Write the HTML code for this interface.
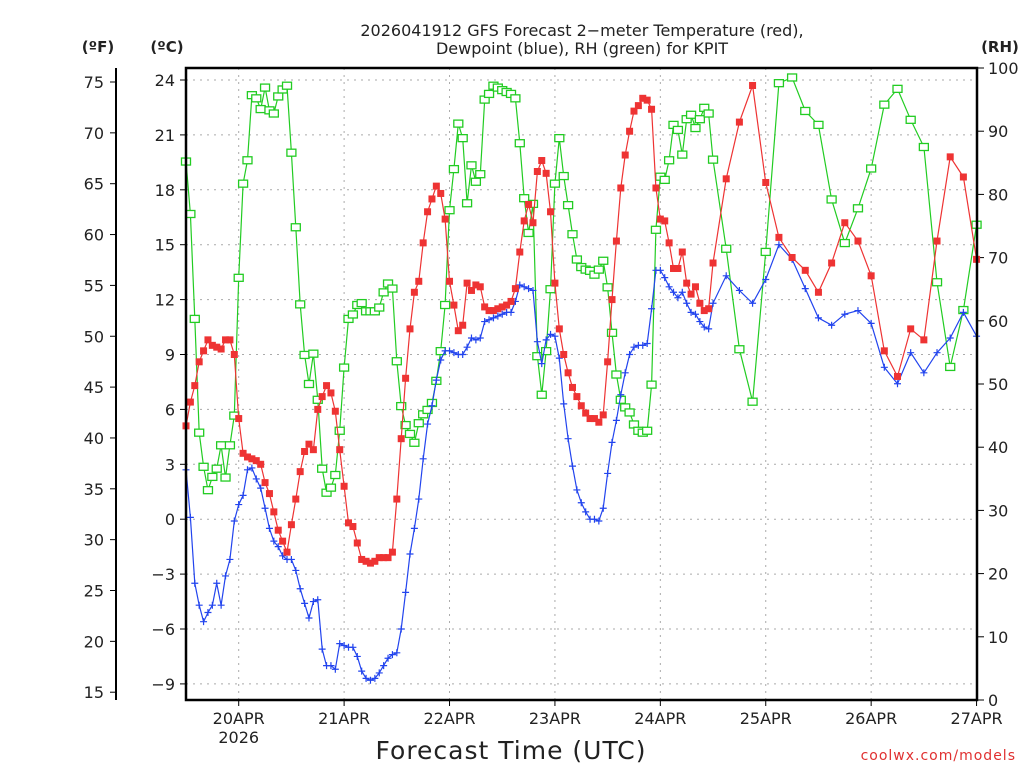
<!DOCTYPE html>
<html><head><meta charset="utf-8"><style>
html,body{margin:0;padding:0;background:#fff;overflow:hidden;width:1024px;height:768px}
svg{display:block}
svg text{font-family:"DejaVu Sans","Liberation Sans",sans-serif;fill:#222}
</style></head><body>
<svg id="chart" width="1024" height="768" viewBox="0 0 1024 768" xmlns="http://www.w3.org/2000/svg">
<rect width="1024" height="768" fill="#fff"/>
<text x="582" y="36" font-size="16" text-anchor="middle">2026041912 GFS Forecast 2−meter Temperature (red),</text>
<text x="582" y="54" font-size="16" text-anchor="middle">Dewpoint (blue), RH (green) for KPIT</text>
<text x="98" y="52" font-size="15" font-weight="bold" text-anchor="middle">(ºF)</text>
<text x="167" y="52" font-size="15" font-weight="bold" text-anchor="middle">(ºC)</text>
<text x="1000" y="52" font-size="15" font-weight="bold" text-anchor="middle">(RH)</text>
<text x="511" y="759" font-size="25" text-anchor="middle" style="letter-spacing:1px">Forecast Time (UTC)</text>
<text x="1016" y="760" font-size="14" text-anchor="end" style="fill:#e03030;letter-spacing:1px">coolwx.com/models</text>
<g id="grid"></g><g id="axes"></g><g id="series"></g>
<rect x="186" y="68" width="791" height="632" fill="none" stroke="#000" stroke-width="2.5"/>
</svg>
<script>
const tempHourly=[5.1,6.4,7.3,8.6,9.2,9.8,9.5,9.4,9.3,9.8,9.8,9.0,5.5,3.6,3.4,3.3,3.2,3.0,2.0,1.4,0.4,-0.6,-1.2,-1.8,-0.3,1.1,2.6,3.7,4.1,3.8,6.0,6.7,7.3,6.9,5.9,3.8,1.8,-0.2,-0.4,-1.3,-2.2,-2.3,-2.4,-2.3,-2.1,-2.1,-2.1,-1.8,1.1,4.4,7.7,10.4,12.4,13.0,15.1,16.8,17.5,18.2,17.8,16.4,13.0,11.7,10.3,
10.6,12.9,12.5,12.8,12.7,11.6,11.4,11.4,11.5,11.6,11.7,11.9,12.6,14.6,16.3,17.2,16.2,19.0,19.6,18.9,16.8,12.9,10.4,9.0,8.0,7.2,6.7,6.2,5.8,5.5,5.5,5.3,5.7,8.6,12.0,15.2,18.1,19.9,21.2,22.3,22.6,23.0,22.9,22.4,18.1,16.4,16.3,15.1,13.7,13.7,14.6,12.9,12.3,12.7,11.8,11.4,11.5,14.0];
const temp3h=[18.6,21.7,23.7,18.4,15.4,14.3,13.6,12.4,14.0,16.2,15.2,13.3,9.2,7.8,10.4,9.8,15.2,19.8,18.7,14.2];
const dewHourly=[2.7,0.1,-3.5,-4.7,-5.6,-5.1,-4.7,-3.5,-4.7,-3.1,-2.2,-0.1,0.8,1.3,2.7,2.8,2.2,1.7,0.6,-0.5,-1.2,-1.5,-2.0,-2.2,-2.2,-2.8,-3.8,-4.6,-5.4,-4.5,-4.4,-7.1,-8.0,-8.0,-8.2,-6.8,-6.9,-7.0,-7.0,-7.5,-8.3,-8.7,-8.8,-8.7,-8.4,-8.0,-7.6,-7.4,-7.3,-6.0,-4.0,-1.9,-0.5,1.1,3.3,5.2,6.2,7.6,8.7,9.2,9.2,9.1,9.0,
9.0,9.4,9.9,9.8,9.9,10.8,10.9,11.0,11.1,11.2,11.3,11.3,11.9,12.8,12.7,12.6,12.5,9.7,8.5,9.8,10.1,10.0,8.8,6.3,4.4,2.9,1.6,0.9,0.4,0.0,0.0,-0.1,0.6,2.5,4.2,5.4,6.8,8.0,9.0,9.4,9.5,9.5,9.6,11.5,13.6,13.6,13.2,12.7,12.4,12.1,12.4,11.8,11.3,11.2,10.8,10.5,10.4,11.8];
const dew3h=[13.3,12.5,11.8,13.1,15.0,14.2,12.6,11.0,10.6,11.2,11.4,10.7,8.3,7.4,9.1,8.0,9.1,9.9,11.3,10.0];
const rhHourly=[85.2,76.9,60.3,42.3,36.9,33.2,35.3,36.6,40.3,35.2,40.3,45.0,66.8,81.7,85.4,95.7,95.2,93.5,96.9,93.3,92.8,95.5,96.6,97.2,86.6,74.8,62.6,54.6,50.0,54.8,47.5,36.6,32.8,33.6,35.6,42.6,52.6,60.3,61.0,62.5,62.8,61.5,61.5,61.5,62.1,64.5,65.9,65.1,53.6,46.5,43.5,42.1,40.7,43.8,45.2,45.9,47.0,50.5,55.2,62.5,77.5,84.0,91.2,
88.9,78.6,84.6,82.0,83.2,95.0,95.9,97.2,96.9,96.5,96.2,95.9,95.2,88.1,79.4,73.9,78.5,54.4,48.3,55.2,65.0,81.7,88.9,82.9,78.3,73.7,69.7,68.5,68.1,67.9,67.3,68.1,69.5,65.3,58.1,51.5,47.5,46.3,45.5,43.6,42.6,42.3,42.6,49.9,74.4,82.8,82.3,85.4,91.0,90.2,86.3,91.9,92.6,90.5,91.9,93.7,92.8,85.5];
const rh3h=[71.4,55.5,47.2,70.9,97.6,98.5,93.2,91.0,79.2,72.3,77.8,84.1,94.2,96.7,91.8,87.5,66.1,52.7,61.7,75.2];
const dayLabels=["20APR","21APR","22APR","23APR","24APR","25APR","26APR","27APR"];
const celsiusTicks=[-9,-6,-3,0,3,6,9,12,15,18,21,24];
const fahrenheitTicks=[15,20,25,30,35,40,45,50,55,60,65,70,75];
const rhTicks=[0,10,20,30,40,50,60,70,80,90,100];

const NS="http://www.w3.org/2000/svg";
const X0=186,PXH=4.392;
function xH(h){return X0+h*PXH;}
function yC(c){return 80+(24-c)*18.3;}
function yF(f){return 82+(75-f)*10.17;}
function yRH(r){return 700-r*6.32;}
function mk(tag,attrs,parent){const e=document.createElementNS(NS,tag);for(const k in attrs)e.setAttribute(k,attrs[k]);parent.appendChild(e);return e;}
const grid=document.getElementById('grid'),axes=document.getElementById('axes'),ser=document.getElementById('series');
function hoursFor(hourly,three){const hs=[];for(let i=0;i<hourly.length;i++)hs.push(i);for(let j=0;j<three.length;j++)hs.push(120+3*(j+1));return hs;}

celsiusTicks.forEach(c=>{
 const l=mk('line',{x1:X0,x2:977,y1:yC(c),y2:yC(c),stroke:'#aaa','stroke-dasharray':'2,5'},grid);
 
 
 mk('line',{x1:180,x2:186,y1:yC(c),y2:yC(c),stroke:'#000'},axes);
 const tx=mk('text',{x:175,y:yC(c)+6,'font-size':16,'text-anchor':'end'},axes);tx.textContent=(c<0?'−'+(-c):c);
 
 
});
mk('line',{x1:116,x2:116,y1:68,y2:700,stroke:'#000','stroke-width':2},axes);
fahrenheitTicks.forEach(f=>{
 mk('line',{x1:110,x2:116,y1:yF(f),y2:yF(f),stroke:'#000'},axes);
 const tx=mk('text',{x:104,y:yF(f)+6,'font-size':16,'text-anchor':'end'},axes);tx.textContent=f;
 
 
});
rhTicks.forEach(r=>{
 mk('line',{x1:977,x2:984,y1:yRH(r),y2:yRH(r),stroke:'#000'},axes);
 const tx=mk('text',{x:988,y:yRH(r)+6,'font-size':16,'text-anchor':'start'},axes);tx.textContent=r;
 
 
});
dayLabels.forEach((d,i)=>{
 const x=xH(12+24*i);
 if(i<7){const g=mk('line',{x1:x,x2:x,y1:68,y2:700,stroke:'#aaa','stroke-dasharray':'2,5'},grid);
 
 }
 mk('line',{x1:x,x2:x,y1:700,y2:706,stroke:'#000'},axes);
 const tx=mk('text',{x:x,y:724,'font-size':16,'text-anchor':'middle'},axes);tx.textContent=d;
 
 
});
const yr=mk('text',{x:xH(12),y:743,'font-size':16,'text-anchor':'middle'},axes);yr.textContent='2026';



function drawSeries(hourly,three,yf,color,kind,name){
 const vals=hourly.concat(three),hs=hoursFor(hourly,three);
 const g=mk('g',{},ser);
 
 
 const pts=vals.map((v,i)=>xH(hs[i]).toFixed(1)+','+yf(v).toFixed(1)).join(' ');
 const pl=mk('polyline',{points:pts,fill:'none',stroke:color,'stroke-width':1.2},g);
 
 
 vals.forEach((v,i)=>{
  const x=xH(hs[i]),y=yf(v);let m;
  if(kind==='fill'){m=mk('rect',{x:x-3.5,y:y-3.5,width:7,height:7,fill:color},g);}
  else if(kind==='open'){m=mk('rect',{x:x-4.5,y:y-3.5,width:9,height:7,fill:'#fff',stroke:color,'stroke-width':1.3},g);}
  else{m=mk('path',{d:`M${x-3.5},${y}H${x+3.5}M${x},${y-3.5}V${y+3.5}`,stroke:color,'stroke-width':1.2},g);}
  
  
 });
}
drawSeries(rhHourly,rh3h,yRH,'#22cc22','open','rh');
drawSeries(dewHourly,dew3h,yC,'#2244ee','plus','dewpoint');
drawSeries(tempHourly,temp3h,yC,'#ee3333','fill','temperature');
</script>
</body></html>
